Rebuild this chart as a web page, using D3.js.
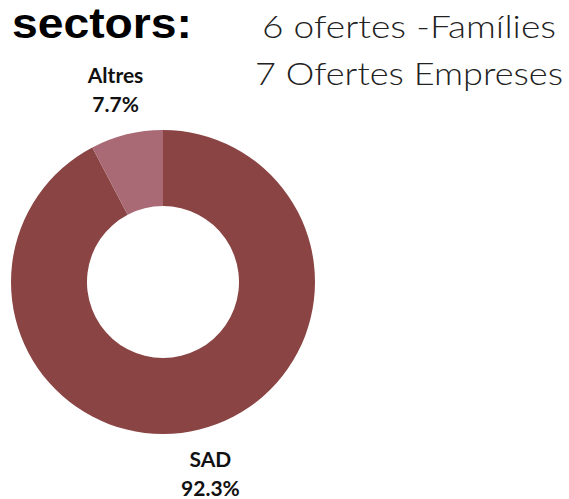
<!DOCTYPE html>
<html>
<head>
<meta charset="utf-8">
<script src="https://cdn.jsdelivr.net/npm/d3@7"></script>
<style>
  html, body { margin: 0; padding: 0; background: #fff; }
  svg { display: block; }
</style>
</head>
<body>
<svg width="569" height="499"></svg>
<script>
"use strict";

const categories = ["SAD", "Altres"];
const values = [92.3, 7.7];
const sliceColors = ["#8a4444", "#a96a75"];
const titleText = "sectors:";
const noteLines = ["6 ofertes -Famílies", "7 Ofertes Empreses"];

const cx = 163, cy = 282;
const outerR = 152, innerR = 76;
const labelR = 198;

function init() {
    const svg = d3.select("svg");

    svg.append("text")
        .attr("x", 12)
        .attr("y", 38)
        .attr("font-family", "'Liberation Sans', Arial, sans-serif")
        .attr("font-weight", "bold")
        .attr("font-size", 42)
        .attr("textLength", 180)
        .attr("lengthAdjust", "spacingAndGlyphs")
        .attr("fill", "#000")
        .text(titleText);

    const noteWidths = [294, 308];
    svg.selectAll("text.note")
        .data(noteLines)
        .join("text")
        .attr("class", "note")
        .attr("x", (d, i) => 409 - noteWidths[i] / 2)
        .attr("y", (d, i) => 38 + i * 47)
        .attr("font-family", "Lato, sans-serif")
        .attr("font-weight", 300)
        .attr("font-size", 32)
        .attr("textLength", (d, i) => noteWidths[i])
        .attr("lengthAdjust", "spacingAndGlyphs")
        .attr("fill", "#222")
        .text(d => d);

    const data = categories.map((c, i) => ({ name: c, value: values[i], color: sliceColors[i] }));

    const pie = d3.pie()
        .sort(null)
        .value(d => d.value);

    const arc = d3.arc()
        .innerRadius(innerR)
        .outerRadius(outerR);

    const g = svg.append("g")
        .attr("transform", `translate(${cx},${cy})`);

    const arcs = pie(data);

    g.selectAll("path")
        .data(arcs)
        .join("path")
        .attr("d", arc)
        .attr("fill", d => d.data.color);

    // labels outside the ring, on the slice mid-angle
    const labelArc = d3.arc()
        .innerRadius(labelR)
        .outerRadius(labelR);

    const labels = g.selectAll("g.label")
        .data(arcs)
        .join("g")
        .attr("class", "label")
        .attr("transform", d => {
            const p = labelArc.centroid(d);
            return `translate(${p[0]},${p[1]})`;
        });

    labels.append("text")
        .attr("text-anchor", "middle")
        .attr("y", -7)
        .attr("font-family", "Lato, sans-serif")
        .attr("font-weight", "bold")
        .attr("font-size", 21)
        .attr("fill", "#111")
        .text(d => d.data.name);

    labels.append("text")
        .attr("text-anchor", "middle")
        .attr("y", 22)
        .attr("font-family", "Lato, sans-serif")
        .attr("font-weight", "bold")
        .attr("font-size", 21)
        .attr("fill", "#111")
        .text(d => d3.format(".1f")(d.data.value) + "%");
}

init();
</script>
</body>
</html>
